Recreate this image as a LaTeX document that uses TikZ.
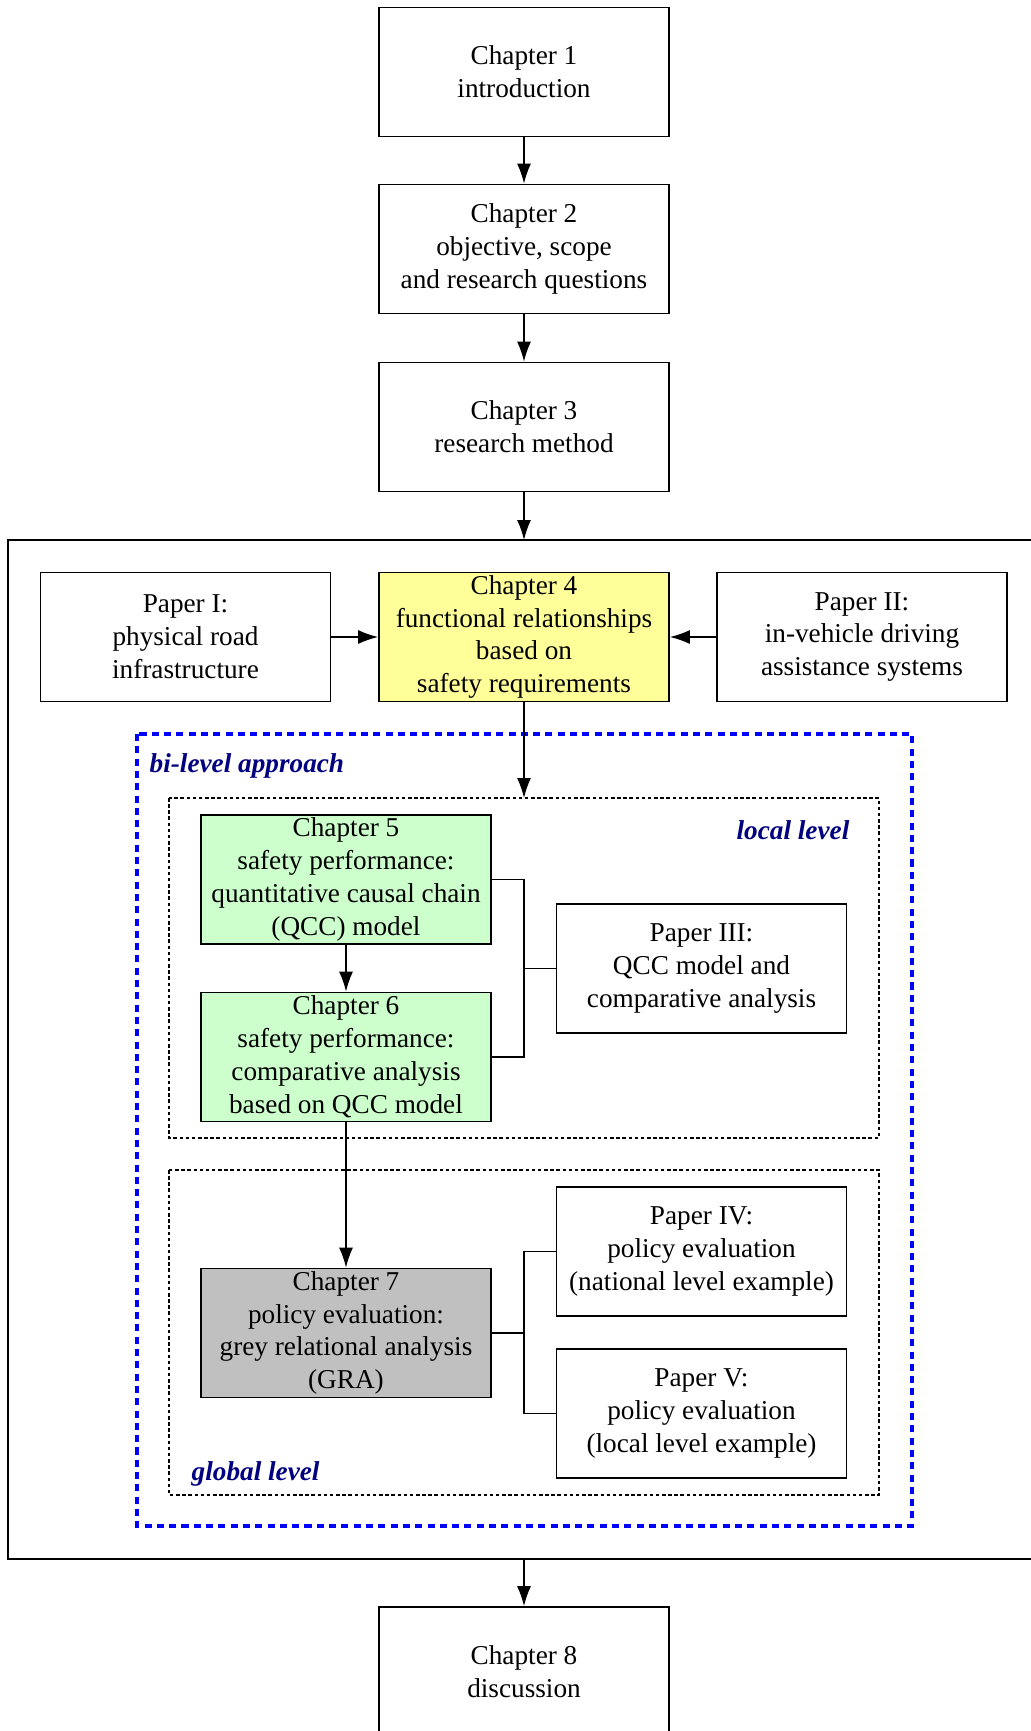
\documentclass[tikz,border=0pt]{standalone}
\usepackage{fontspec}
\setmainfont{Liberation Serif}
\usetikzlibrary{arrows.meta}
\definecolor{chapyellow}{HTML}{FFFF99}
\definecolor{chapgreen}{HTML}{CCFFCC}
\definecolor{chapgrey}{HTML}{C0C0C0}
\definecolor{tagblue}{HTML}{000080}

\begin{document}
\begin{tikzpicture}[every node/.style={font=\fontsize{15.5}{18.7}\selectfont}, >={Latex[length=4mm, width=2.8mm]},
	box/.style={draw, line width=1pt, minimum width=5.8cm, minimum height=2.58cm, align=center, inner sep=1pt},
	tag/.style={text=tagblue, font=\fontsize{15.5}{18.7}\selectfont\bfseries\itshape},
	levelbox/.style={draw, line width=1pt, dash pattern=on 2pt off 1.5pt}]
	\useasboundingbox (0,0) rectangle (20.6,-34.62);
	% frames
	\draw[line width=1pt] (0.154,-10.8) rectangle (21.3,-31.18);
	\draw[blue, line width=1.9pt, dash pattern=on 4pt off 3pt] (2.74,-14.68) rectangle (18.24,-30.52);
	\draw[levelbox] (3.38,-15.96) rectangle (17.58,-22.76);
	\draw[levelbox] (3.38,-23.4) rectangle (17.58,-29.9);
	\coordinate (frametop) at (10.48,-10.8);
	\coordinate (framebot) at (10.48,-31.18);
	\coordinate (localtop) at (10.48,-15.96);
	% chapters and papers
	\node[box] (ch1) at (10.48,-1.44) {Chapter 1\\ introduction};
	\node[box] (ch2) at (10.48,-4.98) {Chapter 2\\ objective, scope\\ and research questions};
	\node[box] (ch3) at (10.48,-8.54) {Chapter 3\\ research method};
	\node[box, fill=chapyellow] (ch4) at (10.48,-12.74) {Chapter 4\\ functional relationships\\ based on\\ safety requirements};
	\node[box] (p1) at (3.71,-12.74) {Paper I:\\ physical road\\ infrastructure};
	\node[box] (p2) at (17.24,-12.74) {Paper II:\\ in-vehicle driving\\ assistance systems};
	\node[box, fill=chapgreen] (ch5) at (6.92,-17.59) {Chapter 5\\ safety performance:\\ quantitative causal chain\\ (QCC) model};
	\node[box, fill=chapgreen] (ch6) at (6.92,-21.14) {Chapter 6\\ safety performance:\\ comparative analysis\\ based on QCC model};
	\node[box] (p3) at (14.03,-19.37) {Paper III:\\ QCC model and\\ comparative analysis};
	\node[box, fill=chapgrey] (ch7) at (6.92,-26.66) {Chapter 7\\ policy evaluation:\\ grey relational analysis\\ (GRA)};
	\node[box] (p4) at (14.03,-25.03) {Paper IV:\\ policy evaluation\\ (national level example)};
	\node[box] (p5) at (14.03,-28.27) {Paper V:\\ policy evaluation\\ (local level example)};
	\node[box] (ch8) at (10.48,-33.43) {Chapter 8\\ discussion};
	% labels
	\node[tag, anchor=west] (bilevel) at (2.87,-15.31) {bi-level approach};
	\node[tag, anchor=east] (local) at (17.11,-16.6) {local level};
	\node[tag, anchor=west] (global) at (3.71,-29.47) {global level};
	% connectors
	\draw[->, line width=0.8pt] (ch1) -- (ch2);
	\draw[->, line width=0.8pt] (ch2) -- (ch3);
	\draw[->, line width=0.8pt] (ch3) -- (frametop);
	\draw[->, line width=0.8pt] (p1) -- (ch4);
	\draw[->, line width=0.8pt] (p2) -- (ch4);
	\draw[->, line width=0.8pt] (ch4) -- (localtop);
	\draw[->, line width=0.8pt] (ch5) -- (ch6);
	\draw[->, line width=0.8pt] (ch6) -- (ch7);
	\draw[->, line width=0.8pt] (framebot) -- (ch8);
	\coordinate (jq) at (10.48,-19.37);
	\coordinate (jg) at (10.48,-26.66);
	\draw[line width=0.8pt] (ch5.east) -| (jq) |- (ch6.east);
	\draw[line width=0.8pt] (jq) -- (p3.west);
	\draw[line width=0.8pt] (ch7.east) -- (jg);
	\draw[line width=0.8pt] (p4.west) -| (jg) |- (p5.west);
\end{tikzpicture}
\end{document}
